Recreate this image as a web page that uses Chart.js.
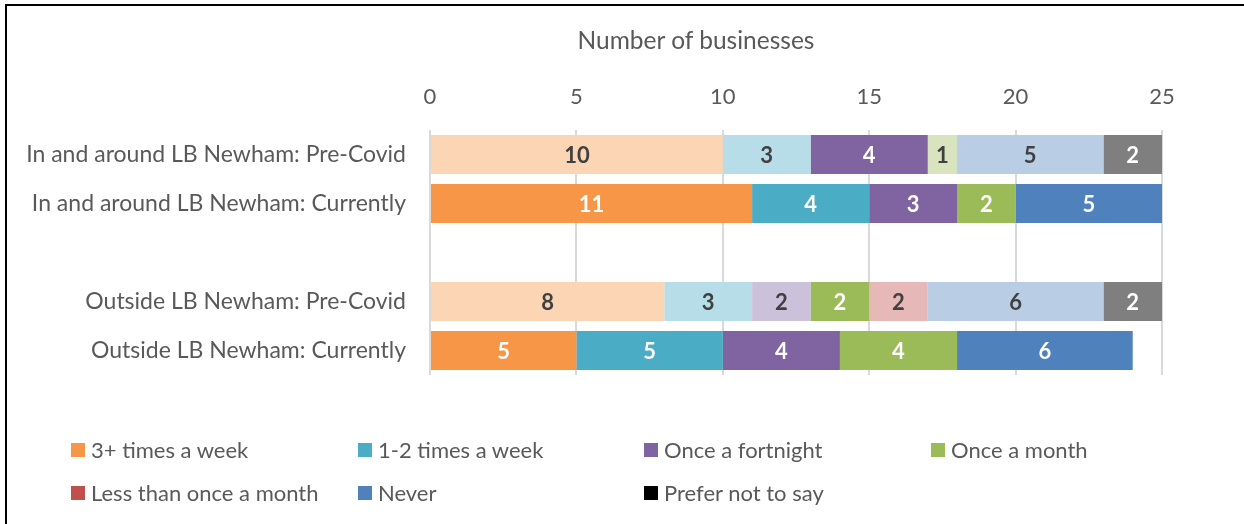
<!DOCTYPE html>
<html>
<head>
<meta charset="utf-8">
<script src="https://cdn.jsdelivr.net/npm/chart.js@4.4.1/dist/chart.umd.min.js"></script>
<style>
  html, body { margin: 0; padding: 0; background: #fff; }
  body { width: 1244px; height: 524px; overflow: hidden; position: relative; font-family: Lato, sans-serif; color: #595959; }
  #frame { position: absolute; left: 5px; top: 4px; width: 1280px; height: 560px; border: 2px solid #000; box-sizing: border-box; }
  #chart { position: absolute; left: 0; top: 0; }
  #axis-title { position: absolute; left: 0; top: 26px; width: 1392px; text-align: center; font-size: 24.5px; line-height: 28px; }
  .legend-item { position: absolute; display: flex; align-items: center; font-size: 22px; line-height: 26px; white-space: nowrap; }
  .legend-item .box { width: 14px; height: 14px; margin-right: 6px; }
</style>
</head>
<body>
<div id="frame"></div>
<canvas id="chart" width="1244" height="524"></canvas>
<div id="axis-title">Number of businesses</div>
<div id="legend"></div>
<script>
const categories = [
    'In and around LB Newham: Pre-Covid',
    'In and around LB Newham: Currently',
    '',
    'Outside LB Newham: Pre-Covid',
    'Outside LB Newham: Currently'
];
const seriesNames = ['3+ times a week', '1-2 times a week', 'Once a fortnight', 'Once a month',
                     'Less than once a month', 'Never', 'Prefer not to say'];

const threePlusWeek = [10, 11, null, 8, 5];
const oneTwoWeek    = [3, 4, null, 3, 5];
const fortnightly   = [4, 3, null, 2, 4];
const monthly       = [1, 2, null, 2, 4];
const lessMonthly   = [null, null, null, 2, null];
const never         = [5, 5, null, 6, 6];
const preferNot     = [2, null, null, 2, null];
const xTicks = [0, 5, 10, 15, 20, 25];

// legend colours, then per-bar fills (pre-Covid rows use paler shades)
const seriesColors = ['#F79646', '#4BACC6', '#8064A2', '#9BBB59', '#C0504D', '#4F81BD', '#000000'];
const barColors = [
    ['#FCD5B5', '#F79646', null, '#FCD5B5', '#F79646'],
    ['#B7DEE8', '#4BACC6', null, '#B7DEE8', '#4BACC6'],
    ['#8064A2', '#8064A2', null, '#CCC1DA', '#8064A2'],
    ['#D7E4BD', '#9BBB59', null, '#9BBB59', '#9BBB59'],
    ['#E6B9B8', '#C0504D', null, '#E6B9B8', '#C0504D'],
    ['#B9CDE5', '#4F81BD', null, '#B9CDE5', '#4F81BD'],
    ['#7F7F7F', '#000000', null, '#7F7F7F', '#000000']
];
const seriesData = [threePlusWeek, oneTwoWeek, fortnightly, monthly, lessMonthly, never, preferNot];

const legendPos = [[71, 437], [358, 437], [644, 437], [931, 437], [71, 480], [358, 480], [644, 480]];

const FONT = 'Lato';
const TEXT = '#595959';

function isLight(hex) {
    const n = parseInt(hex.slice(1), 16);
    const r = (n >> 16) & 255, g = (n >> 8) & 255, b = n & 255;
    return (0.299 * r + 0.587 * g + 0.114 * b) / 255 > 0.72;
}

const barLabels = {
    id: 'barLabels',
    afterDatasetsDraw(chart) {
        const ctx = chart.ctx;
        ctx.save();
        ctx.font = `bold 22px ${FONT}`;
        ctx.textAlign = 'center';
        ctx.textBaseline = 'middle';
        chart.data.datasets.forEach((ds, i) => {
            chart.getDatasetMeta(i).data.forEach((bar, j) => {
                const v = ds.data[j];
                if (!v) return;
                ctx.fillStyle = isLight(ds.backgroundColor[j]) ? '#404040' : '#ffffff';
                ctx.fillText(v, (bar.x + bar.base) / 2, bar.y + 1);
            });
        });
        ctx.restore();
    }
};

const datasets = seriesNames.map((name, i) => ({
    label: name,
    data: seriesData[i],
    backgroundColor: barColors[i],
    borderWidth: 0,
    categoryPercentage: 0.8,
    barPercentage: 1
}));

const chart = new Chart(document.getElementById('chart'), {
    type: 'bar',
    data: { labels: categories, datasets },
    plugins: [barLabels],
    options: {
        indexAxis: 'y',
        responsive: false,
        animation: false,
        layout: { padding: { top: 0, right: 82, bottom: 149, left: 0 } },
        plugins: { legend: { display: false }, tooltip: { enabled: false } },
        scales: {
            x: {
                position: 'top',
                stacked: true,
                min: 0,
                max: 25,
                afterBuildTicks: s => { s.ticks = xTicks.map(v => ({ value: v })); },
                afterFit: s => { s.height = 130; },
                ticks: { padding: 20, color: TEXT, font: { family: FONT, size: 22 } },
                grid: { color: '#D9D9D9', lineWidth: 2, drawTicks: false },
                border: { display: false }
            },
            y: {
                stacked: true,
                afterFit: s => { s.width = 430; },
                ticks: { padding: 16, color: TEXT, font: { family: FONT, size: 23 } },
                grid: { display: false },
                border: { display: false }
            }
        }
    }
});

const legend = document.getElementById('legend');
seriesNames.forEach((name, i) => {
    const item = document.createElement('div');
    item.className = 'legend-item';
    item.style.left = legendPos[i][0] + 'px';
    item.style.top = legendPos[i][1] + 'px';
    item.innerHTML = `<span class="box" style="background:${seriesColors[i]}"></span>${name}`;
    legend.appendChild(item);
});
</script>
</body>
</html>
